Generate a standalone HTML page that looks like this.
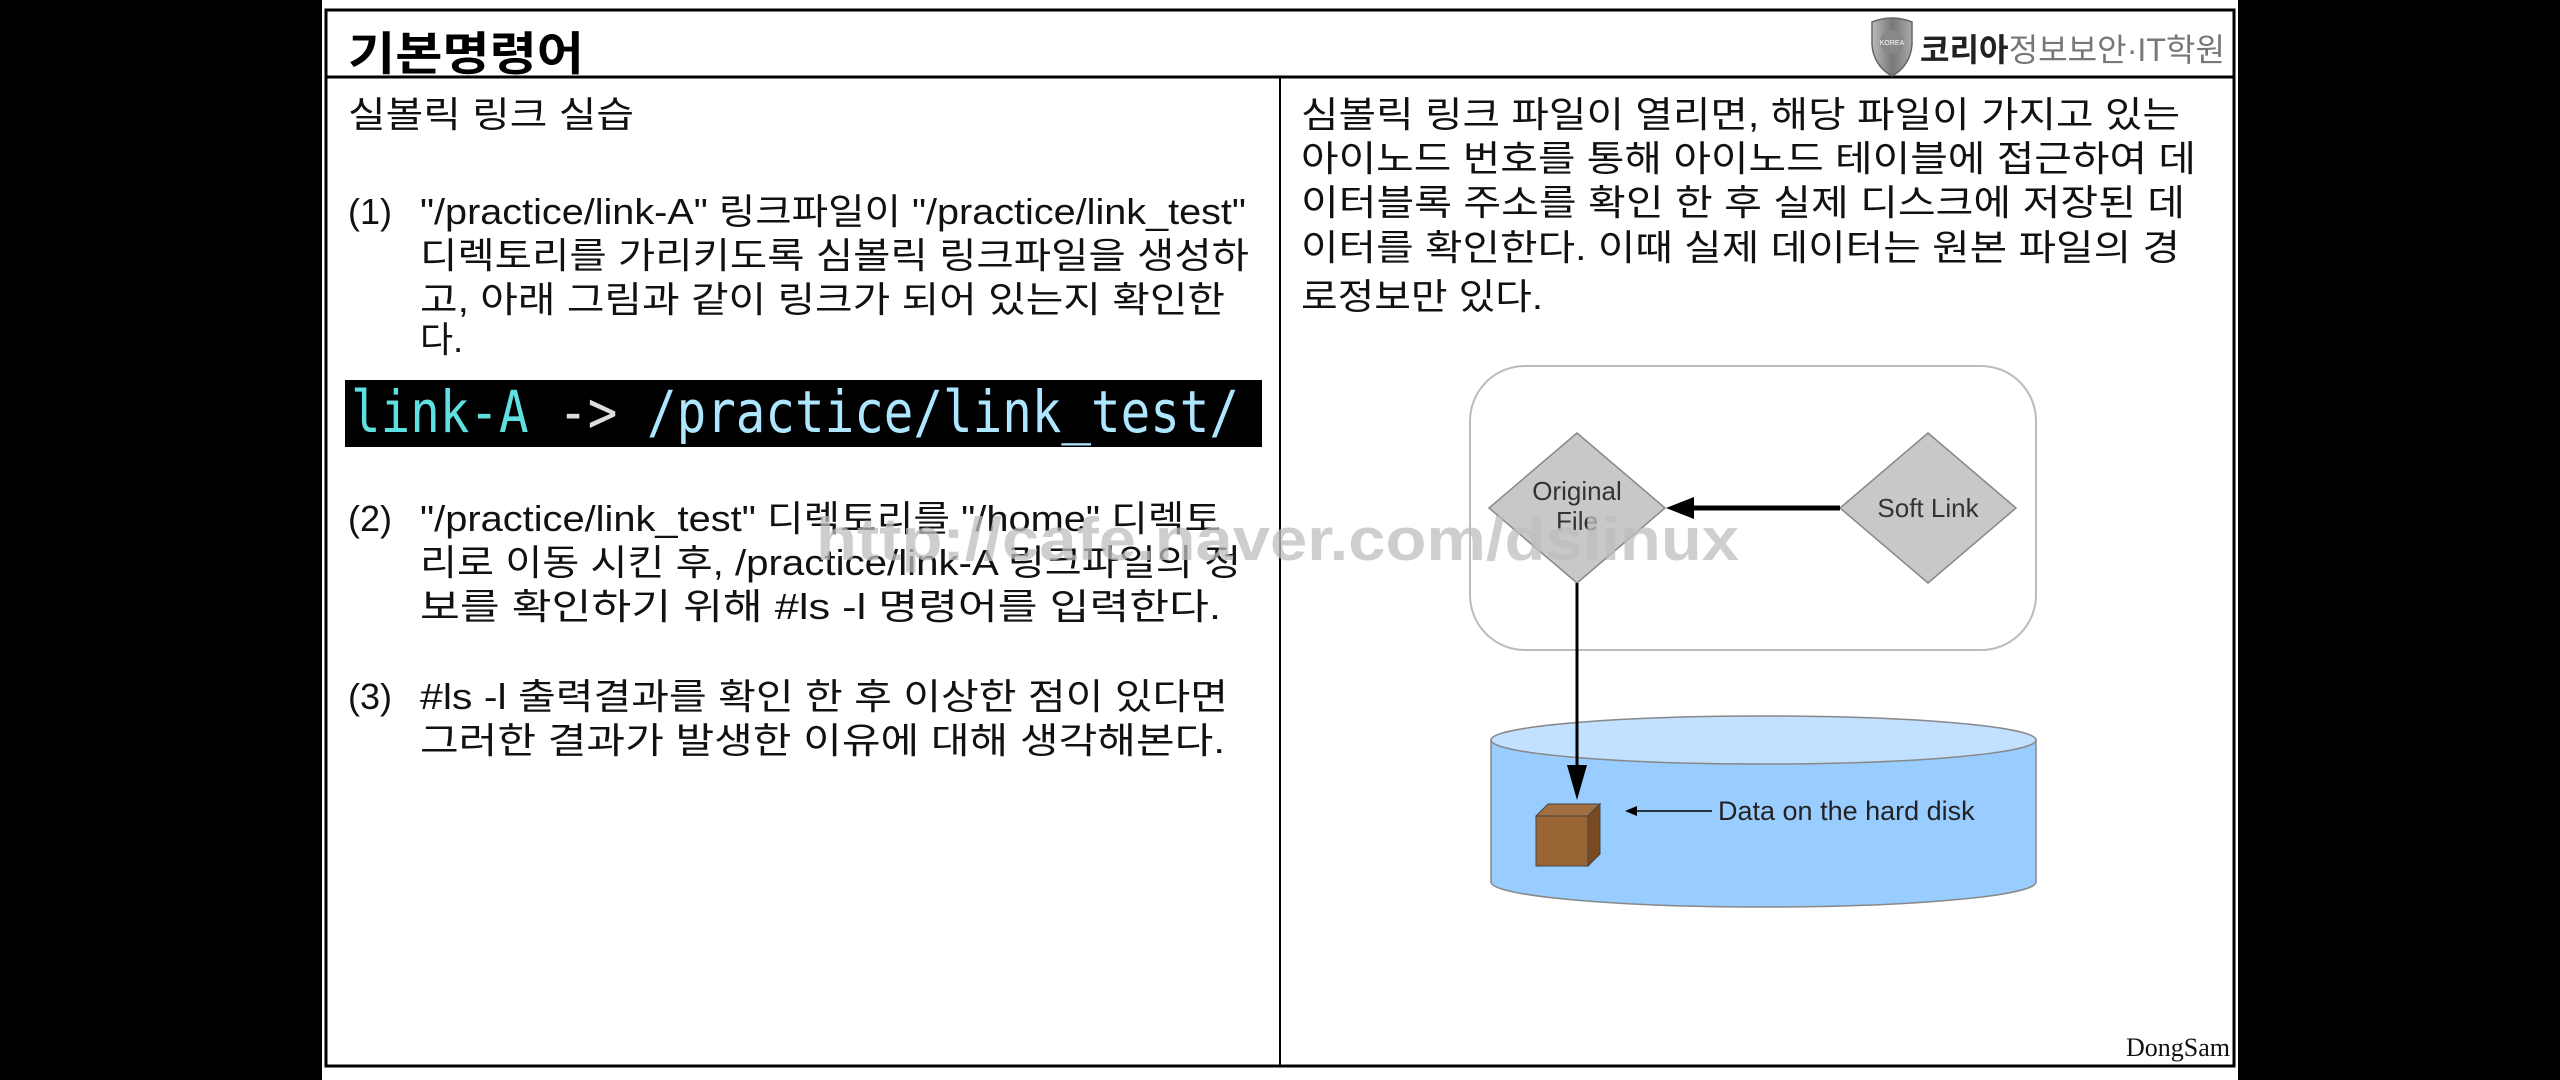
<!DOCTYPE html>
<html><head><meta charset="utf-8"><style>
html,body{margin:0;padding:0;background:#000;}
svg{display:block;}
text{font-family:"Liberation Sans","Noto Sans CJK KR",sans-serif;}
</style></head><body>
<svg width="2560" height="1080" viewBox="0 0 2560 1080" xmlns="http://www.w3.org/2000/svg">
<rect x="0" y="0" width="2560" height="1080" fill="#000"/>
<rect x="322" y="0" width="1916" height="1080" fill="#fff"/>
<rect x="326" y="10" width="1908" height="1056" fill="none" stroke="#000" stroke-width="3"/>
<line x1="326" y1="77" x2="2234" y2="77" stroke="#000" stroke-width="3"/>
<line x1="1280" y1="77" x2="1280" y2="1066" stroke="#000" stroke-width="2"/>
<text x="348" y="70" font-size="46" font-weight="bold" textLength="236" lengthAdjust="spacingAndGlyphs">기본명령어</text>
<defs><linearGradient id="sh" x1="0" x2="1"><stop offset="0" stop-color="#bbb"/><stop offset="0.5" stop-color="#777"/><stop offset="1" stop-color="#aaa"/></linearGradient></defs>
<path d="M1872 22 Q1892 14 1912 22 L1912 45 Q1910 66 1892 76 Q1874 66 1872 45 Z" fill="url(#sh)" stroke="#666" stroke-width="1.5"/>
<circle cx="1892" cy="42" r="12" fill="#888"/>
<text x="1892" y="45" font-size="7" fill="#fff" text-anchor="middle">KOREA</text>
<text x="1920" y="61" font-size="32" textLength="305" lengthAdjust="spacingAndGlyphs"><tspan font-weight="bold" fill="#222">코리아</tspan><tspan fill="#777">정보보안·IT학원</tspan></text>
<g font-size="36" fill="#111">
<text x="348" y="127" textLength="286" lengthAdjust="spacingAndGlyphs">실볼릭 링크 실습</text>
<text x="348" y="224">(1)</text>
<text x="420" y="224" textLength="826" lengthAdjust="spacingAndGlyphs">"/practice/link-A"  링크파일이 "/practice/link_test"</text>
<text x="420" y="268" textLength="829" lengthAdjust="spacingAndGlyphs">디렉토리를 가리키도록 심볼릭 링크파일을 생성하</text>
<text x="420" y="312" textLength="805" lengthAdjust="spacingAndGlyphs">고, 아래 그림과 같이 링크가 되어 있는지 확인한</text>
<text x="420" y="352">다.</text>
<text x="348" y="531">(2)</text>
<text x="420" y="531" textLength="801" lengthAdjust="spacingAndGlyphs">"/practice/link_test" 디렉토리를 "/home" 디렉토</text>
<text x="420" y="575" textLength="821" lengthAdjust="spacingAndGlyphs">리로 이동 시킨 후, /practice/link-A 링크파일의 정</text>
<text x="420" y="619" textLength="801" lengthAdjust="spacingAndGlyphs">보를 확인하기 위해 #ls -l 명령어를 입력한다.</text>
<text x="348" y="709">(3)</text>
<text x="420" y="709" textLength="808" lengthAdjust="spacingAndGlyphs">#ls -l 출력결과를 확인 한 후 이상한 점이 있다면</text>
<text x="420" y="753" textLength="805" lengthAdjust="spacingAndGlyphs">그러한 결과가 발생한 이유에 대해 생각해본다.</text>
</g>
<rect x="345" y="380" width="917" height="67" fill="#000"/>
<text x="351" y="432" font-size="58" style="font-family:'DejaVu Sans Mono','Liberation Mono',monospace" textLength="888" lengthAdjust="spacingAndGlyphs"><tspan fill="#5fe0e0">link-A</tspan><tspan fill="#ddd"> -&gt; </tspan><tspan fill="#aee6ff">/practice/link_test/</tspan></text>
<g font-size="36" fill="#111">
<text x="1301" y="127" textLength="879" lengthAdjust="spacingAndGlyphs">심볼릭 링크 파일이 열리면, 해당 파일이 가지고 있는</text>
<text x="1301" y="171" textLength="895" lengthAdjust="spacingAndGlyphs">아이노드 번호를 통해 아이노드 테이블에 접근하여 데</text>
<text x="1301" y="215" textLength="884" lengthAdjust="spacingAndGlyphs">이터블록 주소를 확인 한 후 실제 디스크에 저장된 데</text>
<text x="1301" y="260" textLength="879" lengthAdjust="spacingAndGlyphs">이터를 확인한다. 이때 실제 데이터는 원본 파일의 경</text>
<text x="1301" y="309" textLength="242" lengthAdjust="spacingAndGlyphs">로정보만 있다.</text>
</g>
<rect x="1470" y="366" width="566" height="284" rx="55" fill="#fff" stroke="#bbb" stroke-width="2"/>
<polygon points="1577,433 1665,508 1577,583 1489,508" fill="#c8c8c8" stroke="#888" stroke-width="1.5"/>
<polygon points="1928,433 2016,508 1928,583 1840,508" fill="#c8c8c8" stroke="#888" stroke-width="1.5"/>
<text x="1577" y="500" font-size="26" text-anchor="middle" fill="#333">Original</text>
<text x="1577" y="530" font-size="26" text-anchor="middle" fill="#333">File</text>
<text x="1928" y="517" font-size="26" text-anchor="middle" fill="#333">Soft Link</text>
<line x1="1840" y1="508" x2="1690" y2="508" stroke="#000" stroke-width="5"/>
<polygon points="1666,508 1694,497 1694,519" fill="#000"/>
<path d="M1491 740 L1491 882 A272.5 25 0 0 0 2036 882 L2036 740 Z" fill="#99ccff" stroke="#888" stroke-width="1.5"/>
<ellipse cx="1763.5" cy="740" rx="272.5" ry="24" fill="#c2e0ff" stroke="#888" stroke-width="1.5"/>
<line x1="1577" y1="583" x2="1577" y2="770" stroke="#000" stroke-width="3"/>
<polygon points="1577,800 1567,765 1587,765" fill="#000"/>
<polygon points="1536,816 1548,804 1600,804 1588,816" fill="#a07040" stroke="#444" stroke-width="1"/>
<polygon points="1588,816 1600,804 1600,854 1588,866" fill="#7a4a20" stroke="#444" stroke-width="1"/>
<rect x="1536" y="816" width="52" height="50" fill="#996633" stroke="#444" stroke-width="1"/>
<line x1="1633" y1="811" x2="1712" y2="811" stroke="#000" stroke-width="1.5"/>
<polygon points="1625,811 1637,806 1637,816" fill="#000"/>
<text x="1718" y="820" font-size="27" fill="#222">Data on the hard disk</text>
<text x="816" y="560" font-size="60" font-weight="bold" fill="#bdbdbd" fill-opacity="0.75" textLength="923" lengthAdjust="spacingAndGlyphs">http://cafe.naver.com/dslinux</text>
<text x="2230" y="1056" font-size="26" style="font-family:'Liberation Serif',serif" text-anchor="end" fill="#111">DongSam</text>
</svg>
</body></html>
